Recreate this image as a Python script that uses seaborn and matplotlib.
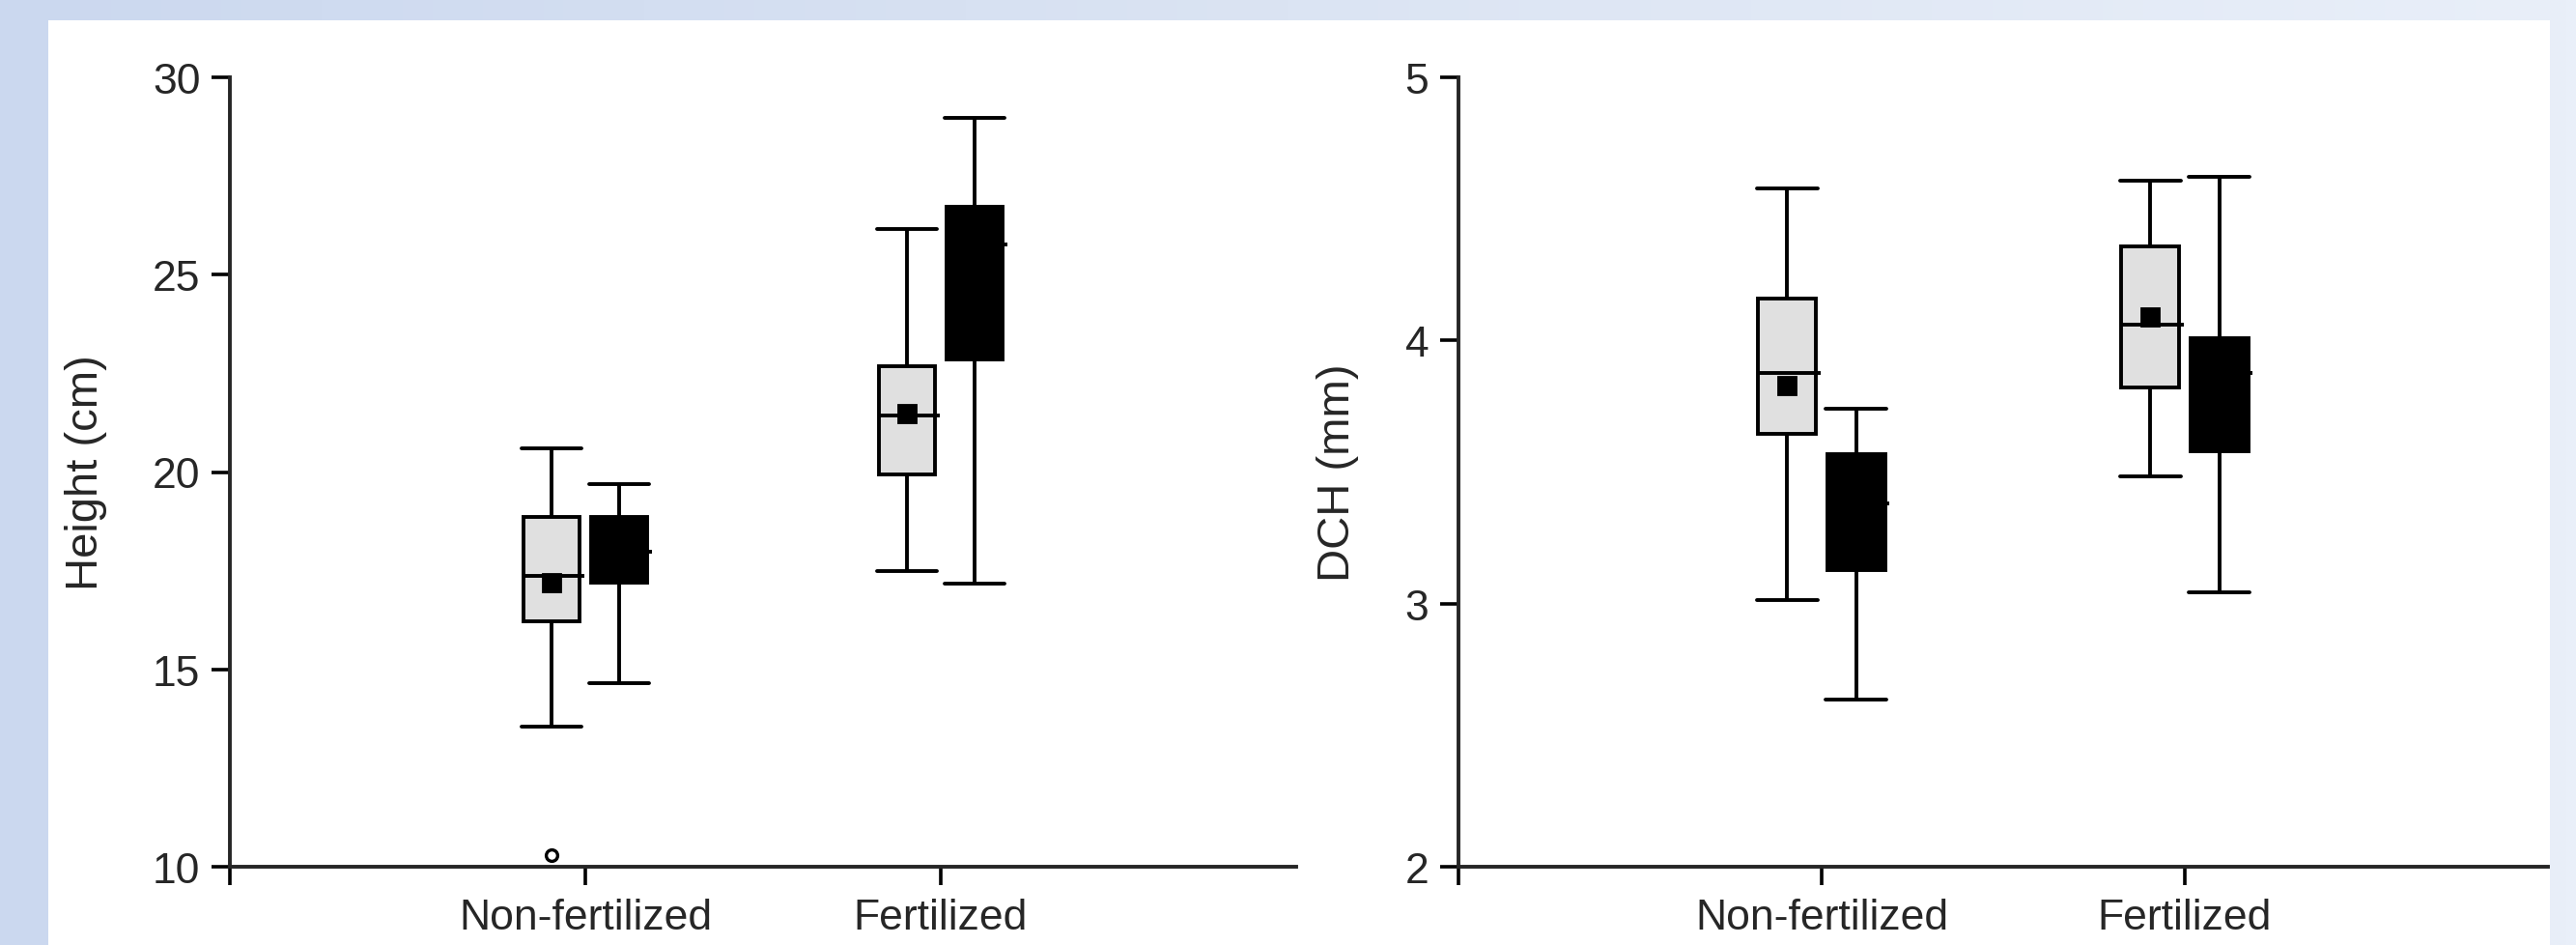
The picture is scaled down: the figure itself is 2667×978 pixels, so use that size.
import numpy as np
import pandas as pd
import matplotlib
matplotlib.use("Agg")
import matplotlib.pyplot as plt
import seaborn as sns
from matplotlib.patches import Rectangle
from matplotlib.colors import LinearSegmentedColormap

# Box order: (Non-fertilized, grey), (Non-fertilized, black), (Fertilized, grey), (Fertilized, black)
treatments = ["Non-fertilized", "Fertilized"]
groups = ["grey", "black"]
box_treatment = ["Non-fertilized", "Non-fertilized", "Fertilized", "Fertilized"]
box_group = ["grey", "black", "grey", "black"]

# Height (cm)
height_low = [13.54, 14.66, 17.48, 17.18]
height_q1 = [16.21, 17.20, 19.95, 22.85]
height_med = [17.36, 17.97, 21.42, 25.76]
height_q3 = [18.85, 18.85, 22.67, 26.72]
height_high = [20.61, 19.70, 26.15, 28.98]
height_outlier = [10.3, None, None, None]
height_mean_grey = [17.2, 21.48]

# DCH (mm)
dch_low = [3.015, 2.637, 3.484, 3.042]
dch_q1 = [3.645, 3.127, 3.821, 3.58]
dch_med = [3.878, 3.38, 4.061, 3.878]
dch_q3 = [4.16, 3.569, 4.359, 4.008]
dch_high = [4.576, 3.74, 4.606, 4.62]
dch_outlier = [None, None, None, None]
dch_mean_grey = [3.83, 4.09]

palette = {"grey": "#e0e0e0", "black": "black"}
BOX_W = 0.38
GAP = 0.16


# 9 points so that numpy's linear percentiles give exactly q1 / median / q3
def box_points(low, q1, med, q3, high, out):
    first = low if out is None else out
    return [first, low, q1, med, med, med, q3, high, high]


def long_table(low, q1, med, q3, high, outl):
    rows = []
    for i in range(4):
        for v in box_points(low[i], q1[i], med[i], q3[i], high[i], outl[i]):
            rows.append({"treatment": box_treatment[i], "group": box_group[i], "value": v})
    return pd.DataFrame(rows)


def fix_caps(ax):
    # seaborn draws caps at half the box width; the original has full-width caps
    # and median lines that poke out a little on the right
    one_box = BOX_W / 2 * (1 - GAP)
    for ln in ax.lines:
        x = np.asarray(ln.get_xdata(), dtype=float)
        y = np.asarray(ln.get_ydata(), dtype=float)
        if len(x) != 2 or y[0] != y[1] or x[0] == x[1]:
            continue
        c = x.mean()
        span = abs(x[1] - x[0])
        if span < 0.75 * one_box:
            ln.set_xdata([c - one_box / 2 - 0.004, c + one_box / 2 + 0.004])
        else:
            ln.set_xdata([c - one_box / 2, c + one_box / 2 + 0.012])


def draw_panel(ax, df, means, ylabel, ylim, yticks):
    sns.boxplot(data=df, x="treatment", y="value", hue="group", order=treatments,
                hue_order=groups, palette=palette, saturation=1, width=BOX_W, gap=GAP,
                whis=(5, 95), linewidth=2.8, linecolor="black", legend=False,
                flierprops=dict(marker="o", markersize=8.5, markerfacecolor="white",
                                markeredgecolor="black", markeredgewidth=2.4),
                ax=ax)
    fix_caps(ax)
    mean_df = pd.DataFrame({"treatment": treatments, "group": ["grey", "grey"], "value": means})
    sns.pointplot(data=mean_df, x="treatment", y="value", hue="group", order=treatments,
                  hue_order=groups, palette={"grey": "black", "black": "black"}, dodge=BOX_W / 2,
                  linestyle="none", marker="s", markersize=12.5, errorbar=None,
                  legend=False, ax=ax)
    ax.set_xlim(-1, 2)
    ax.set_ylim(*ylim)
    ax.set_yticks(yticks)
    ax.set_xlabel("")
    ax.set_ylabel(ylabel, fontsize=34, labelpad=34)
    ax.set_xticks([-1], minor=True)
    ax.tick_params(axis="both", which="both", direction="out", length=14, width=2.6,
                   labelsize=32, color="black")
    ax.tick_params(axis="x", pad=9)
    ax.tick_params(axis="y", pad=8)
    sns.despine(ax=ax)
    for s in ["left", "bottom"]:
        ax.spines[s].set_linewidth(2.8)
    ax.set_facecolor("none")


sns.set_style("ticks")
plt.rcParams["font.family"] = ["Liberation Sans", "DejaVu Sans"]

fig = plt.figure(figsize=(26.67, 9.79), dpi=100)

# light blue slide background with a white card
bg = fig.add_axes([0, 0, 1, 1], zorder=-10)
cmap = LinearSegmentedColormap.from_list("slide", ["#cbd8ef", "#dbe4f3", "#e9eff9"])
bg.imshow(np.linspace(0, 1, 256)[None, :], cmap=cmap, aspect="auto", extent=(0, 1, 0, 1))
bg.add_patch(Rectangle((50 / 2667, 0), 2590 / 2667, 957 / 979, facecolor="white", edgecolor="none"))
bg.set_xlim(0, 1)
bg.set_ylim(0, 1)
bg.axis("off")

ax1 = fig.add_axes([238 / 2667, 81 / 979, 1104 / 2667, 817 / 979])
ax2 = fig.add_axes([1510 / 2667, 81 / 979, 1128 / 2667, 817 / 979])

draw_panel(ax1, long_table(height_low, height_q1, height_med, height_q3, height_high, height_outlier),
           height_mean_grey, "Height (cm)", (10, 30), [10, 15, 20, 25, 30])
draw_panel(ax2, long_table(dch_low, dch_q1, dch_med, dch_q3, dch_high, dch_outlier),
           dch_mean_grey, "DCH (mm)", (2, 5), [2, 3, 4, 5])

fig.savefig("out.png", dpi=100)
